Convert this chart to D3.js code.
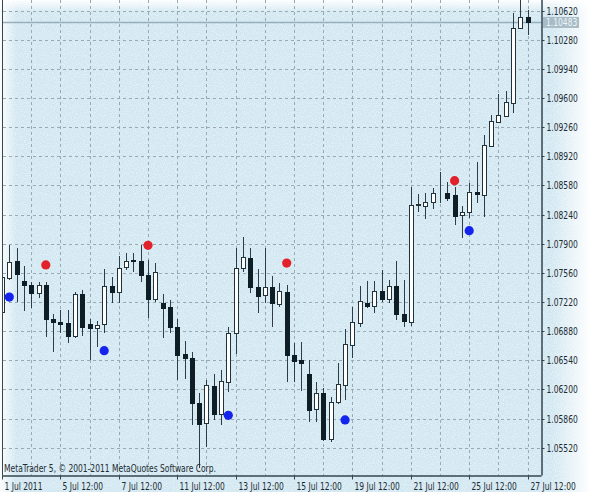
<!DOCTYPE html>
<html><head><meta charset="utf-8">
<script src="https://cdn.jsdelivr.net/npm/d3@7"></script>
<style>html,body{margin:0;padding:0;background:#fff;}svg{display:block;}</style>
</head><body>
<svg id="c" width="589" height="492"></svg>
<script>
// ---- data (EURUSD-like H6 bars) ----
const openP = [1.07104,1.07504,1.07699,1.07469,1.07419,1.07329,1.07419,1.07026,1.06991,1.06972,
 1.06824,1.07314,1.06960,1.06921,1.06960,1.07407,1.07341,1.07626,1.07705,1.07703,
 1.07532,1.07252,1.07205,1.07162,1.06925,1.06610,1.06564,1.06038,1.05805,1.06240,
 1.05910,1.06290,1.06855,1.07614,1.07738,1.07399,1.07302,1.07392,1.07194,1.07341,
 1.06602,1.06544,1.06380,1.05968,1.06155,1.05618,1.06057,1.06252,1.06719,1.06979,
 1.07212,1.07174,1.07353,1.07252,1.07411,1.07077,1.06991,1.08358,1.08341,1.08391,
 1.08487,1.08489,1.08469,1.08236,1.08274,1.08508,1.08469,1.09045,1.09325,1.09391,
 1.09546,1.10415,1.10550];
const highP = [1.07571,1.07886,1.07851,1.07637,1.07454,1.07457,1.07457,1.07086,1.07124,1.07127,
 1.07341,1.07361,1.07019,1.07002,1.07602,1.07516,1.07763,1.07792,1.07789,1.07886,
 1.07708,1.07672,1.07312,1.07240,1.07019,1.06766,1.06641,1.06155,1.06310,1.06380,
 1.06427,1.06925,1.07847,1.07983,1.07847,1.07602,1.07847,1.07520,1.07445,1.07419,
 1.06746,1.06757,1.06544,1.06290,1.06217,1.06115,1.06512,1.06902,1.07159,1.07407,
 1.07469,1.07469,1.07594,1.07477,1.07703,1.07477,1.08567,1.08481,1.08489,1.08547,
 1.08740,1.08624,1.08567,1.08341,1.08610,1.08855,1.09170,1.09403,1.09644,1.09683,
 1.10597,1.10790,1.10628];
const lowP = [1.07057,1.07477,1.07224,1.07116,1.07151,1.07267,1.06816,1.06634,1.06859,1.06739,
 1.06797,1.06824,1.06544,1.06696,1.06855,1.07205,1.07205,1.07598,1.07574,1.07457,
 1.07030,1.07224,1.06797,1.06855,1.06310,1.06319,1.05785,1.05283,1.05525,1.05844,
 1.05785,1.06174,1.06614,1.07574,1.07326,1.07096,1.07205,1.06929,1.07159,1.06290,
 1.06290,1.06186,1.05824,1.05824,1.05602,1.05590,1.06030,1.06077,1.06564,1.06933,
 1.07147,1.07096,1.07224,1.07212,1.07011,1.06929,1.06941,1.08274,1.08186,1.08302,
 1.08372,1.08403,1.08119,1.07964,1.08198,1.08379,1.08216,1.09033,1.09306,1.09383,
 1.09430,1.10403,1.10337];
const closeP = [1.07512,1.07684,1.07547,1.07415,1.07329,1.07419,1.07019,1.06991,1.06967,1.06824,
 1.07314,1.06929,1.06921,1.06949,1.07407,1.07341,1.07614,1.07703,1.07699,1.07532,
 1.07256,1.07571,1.07147,1.06929,1.06602,1.06564,1.06038,1.05797,1.06252,1.05914,
 1.06302,1.06855,1.07614,1.07742,1.07399,1.07294,1.07392,1.07205,1.07343,1.06602,
 1.06536,1.06512,1.05960,1.06155,1.05618,1.06057,1.06264,1.06730,1.06984,1.07236,
 1.07174,1.07353,1.07252,1.07411,1.07077,1.07002,1.08353,1.08364,1.08384,1.08496,
 1.08489,1.08431,1.08224,1.08274,1.08508,1.08478,1.09053,1.09336,1.09403,1.09558,
 1.10415,1.10550,1.10483];
const upMarkIdx = [6, 20, 39, 62];
const upMarkVal = [1.07653, 1.07882, 1.07675, 1.08636];
const downMarkIdx = [1, 14, 31, 47, 64];
const downMarkVal = [1.07278, 1.06652, 1.05898, 1.05844, 1.08053];
const priceTicks = [1.05520,1.05860,1.06200,1.06540,1.06880,1.07220,1.07560,1.07900,
 1.08240,1.08580,1.08920,1.09260,1.09600,1.09940,1.10280,1.10620];
const timeTickIdx = [0, 8, 16, 24, 32, 40, 48, 56, 64, 72];
const timeTickLabels = ["1 Jul 2011","5 Jul 12:00","7 Jul 12:00","11 Jul 12:00","13 Jul 12:00",
 "15 Jul 12:00","19 Jul 12:00","21 Jul 12:00","25 Jul 12:00","27 Jul 12:00"];
const lastPrice = 1.10483;
const copyright = "MetaTrader 5, \u00A9 2001-2011 MetaQuotes Software Corp.";

// ---- layout ----
const W = 589, H = 492;
const plotL = 2.5, plotR = 541.5, plotB = 475.5;
const FONT = "'DejaVu Sans Condensed','DejaVu Sans',sans-serif";
const SQUEEZE = 0.84;
const svg = d3.select("#c");
const x = d3.scaleLinear().domain([0, 72]).range([2, 527.6]);
const y = d3.scaleLinear().domain([1.05520, 1.10620]).range([447.7, 10.7]);
const px = v => Math.round(v) + 0.5;
function squeeze(sel){
  sel.each(function(){
    const w = this.getComputedTextLength();
    d3.select(this).attr("textLength", (w*SQUEEZE).toFixed(1)).attr("lengthAdjust","spacingAndGlyphs");
  });
}

const defs = svg.append("defs");
const f = defs.append("filter").attr("id","noise").attr("x",0).attr("y",0).attr("width","100%").attr("height","100%");
f.append("feTurbulence").attr("type","fractalNoise").attr("baseFrequency",0.9).attr("numOctaves",1).attr("seed",7).attr("result","t");
f.append("feColorMatrix").attr("in","t").attr("type","matrix")
 .attr("values","0 0 0 0 1  0 0 0 0 1  0 0 0 0 1  2.6 0 0 0 -1.1");
function lg(id, x1,y1,x2,y2, stops){
  const g = defs.append("linearGradient").attr("id",id).attr("x1",x1).attr("y1",y1).attr("x2",x2).attr("y2",y2);
  stops.forEach(s=>g.append("stop").attr("offset",s[0]).attr("stop-color","#fff").attr("stop-opacity",s[1]));
}
lg("gTop",0,0,0,1,[[0,0.95],[0.5,0.5],[1,0]]);
lg("gLeft",0,0,1,0,[[0,0.9],[0.5,0.45],[1,0]]);
lg("gRight",0,0,1,0,[[0,0],[0.6,0.55],[1,0.95]]);
defs.append("clipPath").attr("id","plotClip").append("rect")
  .attr("x",3).attr("y",0).attr("width",plotR-3).attr("height",plotB);

// background
svg.append("rect").attr("width",W).attr("height",H).attr("fill","#d1e7f1");
svg.append("rect").attr("width",W).attr("height",H).attr("filter","url(#noise)").attr("opacity",0.55);
svg.append("rect").attr("x",0).attr("y",0).attr("width",W).attr("height",12).attr("fill","url(#gTop)");
svg.append("rect").attr("x",0).attr("y",0).attr("width",16).attr("height",H).attr("fill","url(#gLeft)");
svg.append("rect").attr("x",552).attr("y",0).attr("width",W-552).attr("height",H).attr("fill","url(#gRight)");

// grid
const grid = svg.append("g").attr("stroke","#9aaab3").attr("stroke-width",1).attr("stroke-dasharray","3,3");
grid.selectAll("line.h").data(priceTicks).join("line").attr("class","h")
  .attr("x1",3).attr("x2",plotR).attr("y1",d=>px(y(d))).attr("y2",d=>px(y(d)));
grid.selectAll("line.v").data(d3.range(4, 73, 4)).join("line").attr("class","v")
  .attr("x1",d=>px(x(d))).attr("x2",d=>px(x(d))).attr("y1",0).attr("y2",plotB);

// last price line
svg.append("line").attr("x1",3).attr("x2",plotR).attr("y1",y(lastPrice)).attr("y2",y(lastPrice))
  .attr("stroke","#97afbd").attr("stroke-width",1.6);

// candles
const bars = d3.range(openP.length).map(i=>({i,o:openP[i],h:highP[i],l:lowP[i],c:closeP[i]}));
const cg = svg.append("g").attr("clip-path","url(#plotClip)");
const dark = "#0f1d24";
cg.selectAll("line.w").data(bars).join("line").attr("class","w")
  .attr("x1",d=>px(x(d.i))).attr("x2",d=>px(x(d.i)))
  .attr("y1",d=>Math.round(y(d.h))).attr("y2",d=>Math.round(y(d.l)))
  .attr("stroke","#2e3d45").attr("stroke-width",1);
cg.selectAll("rect.b").data(bars).join("rect").attr("class","b")
  .attr("x",d=>Math.round(x(d.i))-1.5).attr("width",4)
  .attr("y",d=>Math.round(y(Math.max(d.o,d.c)))+0.5)
  .attr("height",d=>Math.max(0, Math.round(y(Math.min(d.o,d.c)))-Math.round(y(Math.max(d.o,d.c)))))
  .attr("fill",d=>d.c>=d.o?"#ffffff":dark)
  .attr("stroke",d=>d.c>=d.o?"#22323a":dark).attr("stroke-width",1);

// fractal markers
const mg = svg.append("g").attr("clip-path","url(#plotClip)");
mg.selectAll("circle.u").data(upMarkIdx).join("circle").attr("class","u")
  .attr("cx",d=>x(d)).attr("cy",(d,k)=>y(upMarkVal[k])).attr("r",4.6).attr("fill","#e3212a");
mg.selectAll("circle.d").data(downMarkIdx).join("circle").attr("class","d")
  .attr("cx",d=>x(d)).attr("cy",(d,k)=>y(downMarkVal[k])).attr("r",4.6).attr("fill","#1424ee");

// axes
const axisColor = "#34464f";
svg.append("line").attr("x1",plotL).attr("x2",plotL).attr("y1",0).attr("y2",plotB).attr("stroke",axisColor);
const ya = svg.append("g").attr("transform",`translate(${plotR},0)`)
  .call(d3.axisRight(y).tickValues(priceTicks).tickSize(3).tickPadding(2).tickFormat(d3.format(".5f")));
ya.select(".domain").attr("d",`M0.5,0V${plotB}`).attr("stroke",axisColor).attr("stroke-width",1.5);
ya.selectAll(".tick line").attr("stroke",axisColor);
ya.selectAll(".tick").attr("transform",d=>`translate(0,${px(y(d))})`);
ya.selectAll("text").attr("font-family",FONT).attr("font-size",10).attr("fill","#1d2b33").call(squeeze);

const xa = svg.append("g").attr("transform",`translate(0,${plotB})`)
  .call(d3.axisBottom(x).tickValues(timeTickIdx).tickSize(4).tickFormat((d,k)=>timeTickLabels[k]));
xa.select(".domain").attr("d",`M${plotL},0.5H${plotR}`).attr("stroke",axisColor).attr("stroke-width",1.5);
xa.selectAll(".tick").attr("transform",d=>`translate(${px(x(d))},0)`);
xa.selectAll(".tick line").attr("stroke",axisColor);
xa.selectAll("text").attr("font-family",FONT).attr("font-size",10).attr("fill","#1d2b33")
  .attr("text-anchor","start").attr("x",2).attr("y",7).attr("dy","0.71em").call(squeeze);

// last price label
const ly = y(lastPrice);
svg.append("rect").attr("x",543).attr("y",ly-5.5).attr("width",36).attr("height",11).attr("fill","#a7bcc7");
svg.append("text").attr("x",546).attr("y",ly).attr("dy","0.35em").attr("font-family",FONT)
  .attr("font-size",10).attr("fill","#eef4f7").text(lastPrice.toFixed(5)).call(squeeze);

// copyright
svg.append("text").attr("x",4).attr("y",472).attr("font-family",FONT).attr("font-size",10)
  .attr("fill","#1d2b33").text(copyright).call(squeeze);
</script>
</body></html>
